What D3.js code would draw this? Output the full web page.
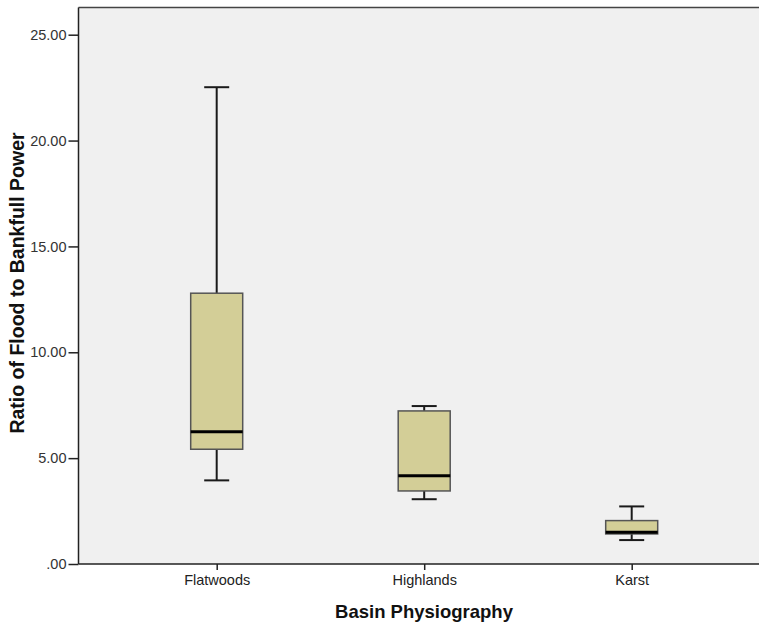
<!DOCTYPE html>
<html>
<head>
<meta charset="utf-8">
<script src="https://cdn.jsdelivr.net/npm/d3@7"></script>
<style>
  html, body { margin: 0; padding: 0; background: #ffffff; }
  svg { display: block; }
  text { font-family: "Liberation Sans", Arial, sans-serif; }
</style>
</head>
<body>
<svg id="chart" width="759" height="628"></svg>
<script>
// Box-plot summaries per basin physiography
const categories = ["Flatwoods", "Highlands", "Karst"];
const whiskerLow  = [3.95, 3.06, 1.13];
const q1          = [5.42, 3.45, 1.42];
const median      = [6.25, 4.17, 1.50];
const q3          = [12.79, 7.23, 2.05];
const whiskerHigh = [22.52, 7.46, 2.72];
const yTicks = [0, 5, 10, 15, 20, 25];

const svg = d3.select("#chart");
const plot = { left: 78.5, top: 7.5, right: 760, bottom: 564 };

const y = d3.scaleLinear().domain([0, 25]).range([plot.bottom, 34.7]);
const x = d3.scalePoint().domain(categories).range([216.7, 631.7]);

const boxW = 52, capW = 25;

// Panel background
svg.append("rect")
  .attr("x", plot.left).attr("y", plot.top)
  .attr("width", plot.right - plot.left).attr("height", plot.bottom - plot.top)
  .attr("fill", "#f0f0f0");

// Top frame line
svg.append("line")
  .attr("x1", plot.left).attr("x2", plot.right)
  .attr("y1", plot.top).attr("y2", plot.top)
  .attr("stroke", "#444").attr("stroke-width", 1.5);

// Y axis
const yAxis = d3.axisLeft(y).tickValues(yTicks).tickSize(10).tickPadding(2)
  .tickFormat(d => d === 0 ? ".00" : d3.format(".2f")(d));
const gy = svg.append("g").attr("transform", `translate(${plot.left},0)`).call(yAxis);
gy.select(".domain").attr("d", `M0,${plot.top}V${plot.bottom}`).attr("stroke", "#222").attr("stroke-width", 1.5);
gy.selectAll(".tick line").attr("stroke", "#222").attr("stroke-width", 1.5);
gy.selectAll(".tick text").attr("font-size", 14.5).attr("fill", "#333")
  .attr("font-family", "'Liberation Sans', Arial, sans-serif");

// X axis
const xAxis = d3.axisBottom(x).tickSize(6).tickPadding(5);
const gx = svg.append("g").attr("transform", `translate(0,${plot.bottom})`).call(xAxis);
gx.select(".domain").attr("d", `M${plot.left},0H${plot.right}`).attr("stroke", "#222").attr("stroke-width", 1.5);
gx.selectAll(".tick line").attr("stroke", "#222").attr("stroke-width", 1.5);
gx.selectAll(".tick text").attr("font-size", 14.5).attr("fill", "#222")
  .attr("font-family", "'Liberation Sans', Arial, sans-serif");

// Boxes
const data = categories.map((c, i) => ({
  c, lo: whiskerLow[i], q1: q1[i], med: median[i], q3: q3[i], hi: whiskerHigh[i]
}));

const g = svg.append("g").selectAll("g").data(data).join("g");

// whisker stems
g.append("line")
  .attr("x1", d => x(d.c)).attr("x2", d => x(d.c))
  .attr("y1", d => y(d.hi)).attr("y2", d => y(d.q3))
  .attr("stroke", "#1a1a1a").attr("stroke-width", 2);
g.append("line")
  .attr("x1", d => x(d.c)).attr("x2", d => x(d.c))
  .attr("y1", d => y(d.q1)).attr("y2", d => y(d.lo))
  .attr("stroke", "#1a1a1a").attr("stroke-width", 2);
// whisker caps
g.append("line")
  .attr("x1", d => x(d.c) - capW / 2).attr("x2", d => x(d.c) + capW / 2)
  .attr("y1", d => y(d.hi)).attr("y2", d => y(d.hi))
  .attr("stroke", "#1a1a1a").attr("stroke-width", 2);
g.append("line")
  .attr("x1", d => x(d.c) - capW / 2).attr("x2", d => x(d.c) + capW / 2)
  .attr("y1", d => y(d.lo)).attr("y2", d => y(d.lo))
  .attr("stroke", "#1a1a1a").attr("stroke-width", 2);
// box
g.append("rect")
  .attr("x", d => x(d.c) - boxW / 2).attr("width", boxW)
  .attr("y", d => y(d.q3)).attr("height", d => y(d.q1) - y(d.q3))
  .attr("fill", "#d3ce97").attr("stroke", "#555").attr("stroke-width", 1.5);
// median
g.append("line")
  .attr("x1", d => x(d.c) - boxW / 2).attr("x2", d => x(d.c) + boxW / 2)
  .attr("y1", d => y(d.med)).attr("y2", d => y(d.med))
  .attr("stroke", "#000").attr("stroke-width", 3);

// Axis titles
svg.append("text")
  .attr("x", 424).attr("y", 618)
  .attr("text-anchor", "middle").attr("font-size", 18.5).attr("font-weight", "bold")
  .attr("fill", "#111").text("Basin Physiography");

svg.append("text")
  .attr("transform", `translate(24,283) rotate(-90)`)
  .attr("text-anchor", "middle").attr("font-size", 19.5).attr("font-weight", "bold")
  .attr("fill", "#111").text("Ratio of Flood to Bankfull Power");
</script>
</body>
</html>
